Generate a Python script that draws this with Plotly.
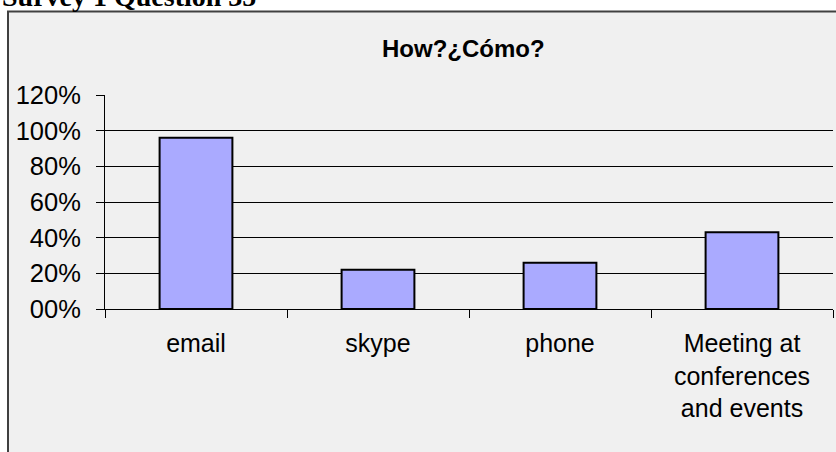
import plotly.graph_objects as go

# Survey answers: share of respondents per contact channel
categories = ["email", "skype", "phone", "Meeting at<br>conferences<br>and events"]
shares = [0.96, 0.22, 0.26, 0.43]
tick_vals = [0, 0.2, 0.4, 0.6, 0.8, 1.0, 1.2]
tick_text = ["00%", "20%", "40%", "60%", "80%", "100%", "120%"]

W, H = 836, 452
L, R, T, B = 105, 3, 95, 143
pw, ph = W - L - R, H - T - B


def px_x(x):
    return (x - L) / pw


def px_y(y):
    return (H - B - y) / ph


fig = go.Figure(
    go.Bar(
        x=categories,
        y=shares,
        width=0.4,
        marker=dict(color="#aaaaff", line=dict(color="black", width=2)),
    )
)

fig.update_layout(
    width=W,
    height=H,
    margin=dict(l=L, r=R, t=T, b=B),
    paper_bgcolor="white",
    plot_bgcolor="rgba(0,0,0,0)",
    showlegend=False,
    font=dict(family="Liberation Sans, Arial, sans-serif", size=25, color="black"),
    bargap=0.6,
)

fig.update_yaxes(
    range=[0, 1.2],
    tickvals=tick_vals,
    ticktext=tick_text,
    tickfont=dict(size=25.5),
    showgrid=True,
    gridcolor="black",
    gridwidth=1,
    zeroline=False,
    showline=True,
    linecolor="black",
    linewidth=1,
    ticks="outside",
    ticklen=8,
    tickcolor="black",
    ticklabelstandoff=10,
)

fig.update_xaxes(
    type="category",
    tickson="boundaries",
    ticks="outside",
    ticklen=8,
    tickcolor="black",
    showline=True,
    linecolor="black",
    linewidth=1,
    showgrid=False,
    ticklabelstandoff=12,
)

# chart frame
fig.add_shape(
    type="rect",
    xref="paper",
    yref="paper",
    x0=px_x(8),
    x1=px_x(850),
    y0=px_y(470),
    y1=px_y(11.5),
    fillcolor="#f0f0f0",
    line=dict(color="#404040", width=2),
    layer="below",
)

# chart title
fig.add_annotation(
    text="How?¿Cómo?",
    xref="paper",
    yref="paper",
    x=px_x(463),
    y=px_y(48),
    xanchor="center",
    yanchor="middle",
    showarrow=False,
    font=dict(family="Liberation Sans, Arial, sans-serif", size=24, color="black", weight="bold"),
)

# document heading above the chart
fig.add_annotation(
    text="<b>Survey 1 Question 35</b>",
    xref="paper",
    yref="paper",
    x=px_x(0),
    y=px_y(-4),
    xanchor="left",
    yanchor="middle",
    showarrow=False,
    font=dict(family="Liberation Serif, Times New Roman, serif", size=28, color="black"),
)

fig.write_html("out.html")
